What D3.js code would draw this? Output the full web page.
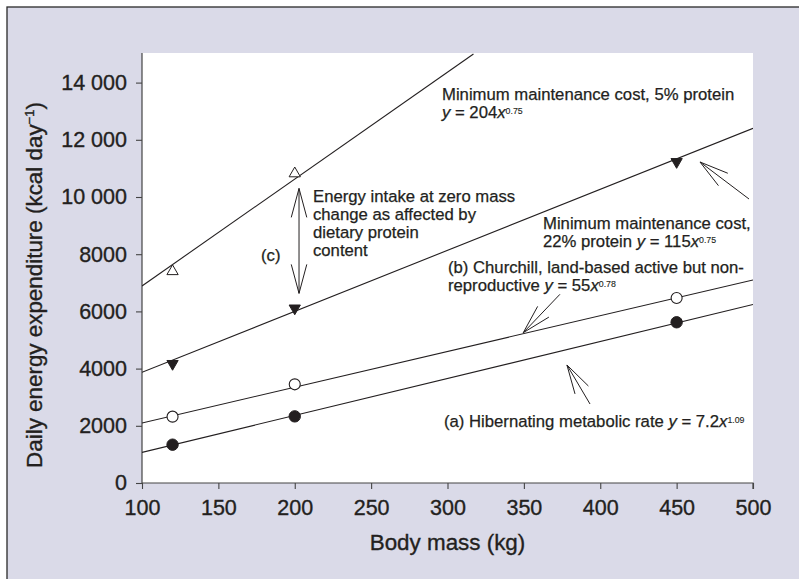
<!DOCTYPE html>
<html><head><meta charset="utf-8">
<script src="https://cdn.jsdelivr.net/npm/d3@7/dist/d3.min.js"></script>
<style>
html,body{margin:0;padding:0;background:#fff;}
svg{display:block;font-family:"Liberation Sans",Arial,Helvetica,sans-serif;}
text{paint-order:stroke;}
</style></head>
<body>
<svg id="chart" width="799" height="579"></svg>
<script>
// ---- Data ----
const xTicks = [100, 150, 200, 250, 300, 350, 400, 450, 500];
const yTicks = [0, 2000, 4000, 6000, 8000, 10000, 12000, 14000];
const yTickLabels = ["0", "2000", "4000", "6000", "8000", "10 000", "12 000", "14 000"];

// observed points
const mass5 = [120, 200];              // 5% protein (open up-triangles)
const energy5 = [7400, 10820];
const mass22 = [120, 200, 450];        // 22% protein (filled down-triangles)
const energy22 = [4170, 6110, 11230];
const massB = [120, 200, 450];         // (b) Churchill (open circles)
const energyB = [2320, 3450, 6470];
const massA = [120, 200, 450];         // (a) Hibernating (filled circles)
const energyA = [1340, 2330, 5620];

// fitted lines (end points)
const line5Mass = [100, 317];
const line5 = [6890, 15000];
const line22Mass = [100, 500];
const line22 = [3870, 12400];
const lineBMass = [100, 500];
const lineB = [2100, 7100];
const lineAMass = [100, 500];
const lineA = [1070, 6240];

// ---- Layout ----
const svg = d3.select("#chart");
const W = 799, H = 579;
const ink = "#231f20";

svg.append("rect").attr("x", 7).attr("y", 7).attr("width", W + 10).attr("height", H + 10)
  .attr("fill", "#dadae8").attr("stroke", "#2a2a2a").attr("stroke-width", 1.3);

const x = d3.scaleLinear().domain([100, 500]).range([142, 753]);
const y = d3.scaleLinear().domain([0, 15000]).range([483, 54]);

svg.append("rect").attr("x", x(100)).attr("y", y(15000) - 1)
  .attr("width", x(500) - x(100)).attr("height", y(0) - y(15000) + 1).attr("fill", "#fff");

svg.append("clipPath").attr("id", "clip").append("rect")
  .attr("x", x(100)).attr("y", y(15000) - 1).attr("width", x(500) - x(100)).attr("height", y(0) - y(15000) + 1);

// axes
const xAxis = svg.append("g").attr("transform", `translate(0,${y(0)})`)
  .call(d3.axisBottom(x).tickValues(xTicks).tickSize(6).tickPadding(11).tickFormat(d3.format("d")));
const yAxis = svg.append("g").attr("transform", `translate(${x(100)},0)`)
  .call(d3.axisLeft(y).tickValues(yTicks).tickSize(6).tickPadding(9)
    .tickFormat((d, i) => yTickLabels[i]));
[xAxis, yAxis].forEach(g => {
  g.select(".domain").attr("stroke", "#444").attr("stroke-width", 1.2);
  g.selectAll(".tick line").attr("stroke", "#444").attr("stroke-width", 1.1);
  g.selectAll(".tick text").attr("fill", ink).attr("font-size", 21.5)
    .attr("stroke", ink).attr("stroke-width", 0.35)
    .attr("font-family", "'Liberation Sans', Arial, sans-serif");
});
xAxis.selectAll(".tick text").attr("dy", "0.72em");
xAxis.select(".domain").attr("d", `M${x(100)},0H${x(500)}V6`);
yAxis.select(".domain").attr("d", `M0,${y(0)}V${y(15000) - 1}`);

// axis titles
svg.append("text").attr("x", (x(100) + x(500)) / 2).attr("y", 550)
  .attr("text-anchor", "middle").attr("font-size", 22.4).attr("fill", ink)
  .attr("stroke", ink).attr("stroke-width", 0.35).text("Body mass (kg)");
const yt = svg.append("text").attr("transform", "translate(42,285) rotate(-90)")
  .attr("text-anchor", "middle").attr("font-size", 22.4).attr("fill", ink)
  .attr("stroke", ink).attr("stroke-width", 0.35);
yt.append("tspan").text("Daily energy expenditure (kcal day");
yt.append("tspan").attr("dy", -8).attr("font-size", 13).text("\u22121");
yt.append("tspan").attr("dy", 8).text(")");

// fitted lines
const plot = svg.append("g").attr("clip-path", "url(#clip)");
const lineGen = d3.line().x(d => x(d[0])).y(d => y(d[1]));
[[line5Mass, line5], [line22Mass, line22], [lineBMass, lineB], [lineAMass, lineA]].forEach(([m, e]) => {
  plot.append("path").datum(m.map((v, i) => [v, e[i]])).attr("d", lineGen)
    .attr("fill", "none").attr("stroke", ink).attr("stroke-width", 1.1);
});

// markers
const tri = d3.symbol().type(d3.symbolTriangle).size(55);
svg.append("g").selectAll("path").data(mass5.map((m, i) => [m, energy5[i]])).join("path")
  .attr("d", tri).attr("transform", d => `translate(${x(d[0])},${y(d[1])})`)
  .attr("fill", "#fff").attr("stroke", ink).attr("stroke-width", 1);
svg.append("g").selectAll("path").data(mass22.map((m, i) => [m, energy22[i]])).join("path")
  .attr("d", tri).attr("transform", d => `translate(${x(d[0])},${y(d[1])}) rotate(180)`)
  .attr("fill", ink).attr("stroke", ink).attr("stroke-width", 1);
svg.append("g").selectAll("circle").data(massB.map((m, i) => [m, energyB[i]])).join("circle")
  .attr("cx", d => x(d[0])).attr("cy", d => y(d[1])).attr("r", 5.5)
  .attr("fill", "#fff").attr("stroke", ink).attr("stroke-width", 1.1);
svg.append("g").selectAll("circle").data(massA.map((m, i) => [m, energyA[i]])).join("circle")
  .attr("cx", d => x(d[0])).attr("cy", d => y(d[1])).attr("r", 5.7)
  .attr("fill", ink).attr("stroke", ink).attr("stroke-width", 1);

// arrows (head, tail in data units)
function arrowHead(hx, hy, tx, ty) {
  const ang = Math.atan2(ty - hy, tx - hx), L = 30, a = 15 * Math.PI / 180;
  const p = [ang - a, ang + a].map(t => [hx + L * Math.cos(t), hy + L * Math.sin(t)]);
  svg.append("path").attr("d", `M${p[0][0]},${p[0][1]}L${hx},${hy}L${p[1][0]},${p[1][1]}`)
    .attr("fill", "none").attr("stroke", ink).attr("stroke-width", 1);
}
function arrow(h, t, both) {
  const hx = x(h[0]), hy = y(h[1]), tx = x(t[0]), ty = y(t[1]);
  svg.append("line").attr("x1", hx).attr("y1", hy).attr("x2", tx).attr("y2", ty)
    .attr("stroke", ink).attr("stroke-width", 1);
  arrowHead(hx, hy, tx, ty);
  if (both) arrowHead(tx, ty, hx, hy);
}
arrow([202.8, 10300], [202.8, 6630], true);
arrow([465.3, 11224], [497.4, 9930]);
arrow([349.6, 5255], [373.6, 6598]);
arrow([378.2, 4126], [393.3, 2762]);

// annotation text
function label(px, py, parts, size) {
  const t = svg.append("text").attr("x", px).attr("y", py).attr("font-size", size || 16.7)
    .attr("fill", ink).attr("stroke", ink).attr("stroke-width", 0.25);
  parts.forEach(p => {
    const s = t.append("tspan").text(p.t);
    if (p.i) s.attr("font-style", "italic");
    if (p.sup) s.attr("dy", -4.5).attr("font-size", 8.8).attr("stroke-width", 0.12);
  });
}
label(442, 100, [{t: "Minimum maintenance cost, 5% protein"}]);
label(442, 118, [{t: "y", i: 1}, {t: " = 204"}, {t: "x", i: 1}, {t: "0.75", sup: 1}]);
label(313, 201.5, [{t: "Energy intake at zero mass"}]);
label(313, 219.5, [{t: "change as affected by"}]);
label(313, 237.5, [{t: "dietary protein"}]);
label(313, 255.5, [{t: "content"}]);
label(261, 261, [{t: "(c)"}]);
label(543, 229, [{t: "Minimum maintenance cost,"}]);
label(543, 247, [{t: "22% protein "}, {t: "y", i: 1}, {t: " = 115"}, {t: "x", i: 1}, {t: "0.75", sup: 1}]);
label(448, 273, [{t: "(b) Churchill, land-based active but non-"}]);
label(448, 291, [{t: "reproductive "}, {t: "y", i: 1}, {t: " = 55"}, {t: "x", i: 1}, {t: "0.78", sup: 1}]);
label(444, 427, [{t: "(a) Hibernating metabolic rate "}, {t: "y", i: 1}, {t: " = 7.2"}, {t: "x", i: 1}, {t: "1.09", sup: 1}]);
</script>
</body></html>
